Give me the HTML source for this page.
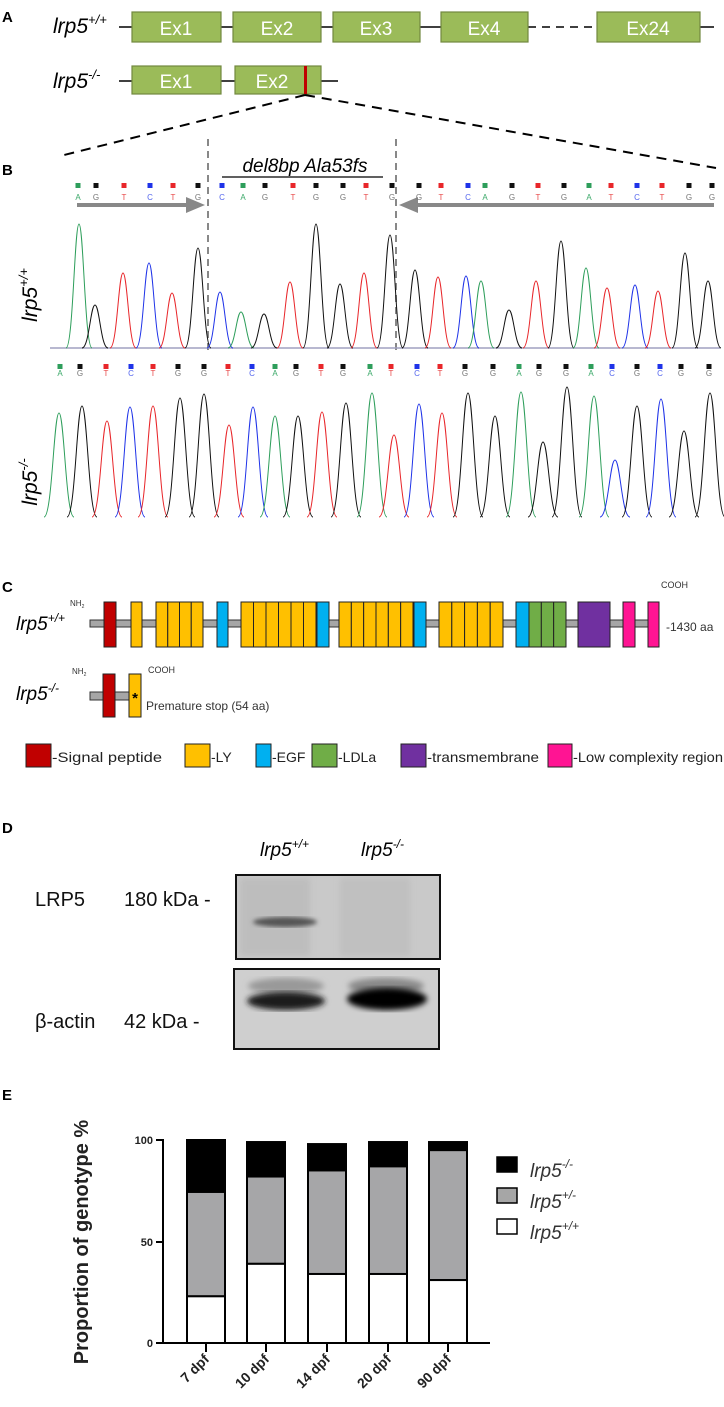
<!DOCTYPE html>
<html><head><meta charset="utf-8"><style>
html,body{margin:0;padding:0;background:#fff}
svg{display:block}
text{font-family:"Liberation Sans",sans-serif}
</style></head><body>
<svg id="s" width="724" height="1407" viewBox="0 0 724 1407" xmlns="http://www.w3.org/2000/svg">
<defs>
<filter id="blur3"><feGaussianBlur stdDeviation="3"/></filter>
<filter id="blur2"><feGaussianBlur stdDeviation="2"/></filter>
</defs>
<!-- Panel A -->
<text x="2" y="22" font-size="15" font-weight="bold">A</text>
<text x="2" y="175" font-size="15" font-weight="bold">B</text>
<g stroke="#000" stroke-width="1.5">
<line x1="119" y1="27" x2="528" y2="27"/>
<line x1="528" y1="27" x2="597" y2="27" stroke-dasharray="8,6"/>
<line x1="597" y1="27" x2="714" y2="27"/>
<line x1="119" y1="81" x2="338" y2="81"/>
</g>
<g fill="#9bbb59" stroke="#71893f" stroke-width="1.2">
<rect x="132" y="12" width="89" height="30"/>
<rect x="233" y="12" width="88" height="30"/>
<rect x="333" y="12" width="87" height="30"/>
<rect x="441" y="12" width="87" height="30"/>
<rect x="597" y="12" width="103" height="30"/>
<rect x="132" y="66" width="89" height="28"/>
<rect x="235" y="66" width="86" height="28"/>
</g>
<rect x="304" y="66" width="3" height="28" fill="#c00000"/>
<g fill="#fff" font-size="19" text-anchor="middle">
<text x="176" y="35">Ex1</text><text x="277" y="35">Ex2</text><text x="376" y="35">Ex3</text><text x="484" y="35">Ex4</text><text x="648" y="35">Ex24</text>
<text x="176" y="88">Ex1</text><text x="272" y="88">Ex2</text>
</g>
<text x="53" y="33" font-size="21" font-style="italic">lrp5<tspan font-size="13" dy="-9">+/+</tspan></text>
<text x="53" y="88" font-size="21" font-style="italic">lrp5<tspan font-size="13" dy="-9">-/-</tspan></text>
<g stroke="#000" stroke-width="2" stroke-dasharray="10,7">
<line x1="305" y1="95" x2="60" y2="156"/>
<line x1="305" y1="95" x2="716" y2="168"/>
</g>
<!-- Panel B -->
<text x="305" y="172" font-size="19" font-style="italic" text-anchor="middle">del8bp Ala53fs</text>
<line x1="222" y1="177" x2="383" y2="177" stroke="#000" stroke-width="1.2"/>
<g stroke="#888" stroke-width="2" stroke-dasharray="7,5">
<line x1="208" y1="139" x2="208" y2="352"/>
<line x1="396" y1="139" x2="396" y2="352"/>
</g>
<g fill="#888" stroke="#888">
<line x1="77" y1="205" x2="188" y2="205" stroke-width="4"/>
<polygon points="186,197 205,205 186,213" stroke="none"/>
<line x1="416" y1="205" x2="714" y2="205" stroke-width="4"/>
<polygon points="418,197 399,205 418,213" stroke="none"/>
</g>
<g id="seq"></g>
<g id="tr"></g>
<text transform="translate(37,295) rotate(-90)" font-size="21" font-style="italic" text-anchor="middle">lrp5<tspan font-size="13" dy="-9">+/+</tspan></text>
<text transform="translate(37,482) rotate(-90)" font-size="21" font-style="italic" text-anchor="middle">lrp5<tspan font-size="13" dy="-9">-/-</tspan></text>
<!-- Panel C -->
<text x="2" y="592" font-size="15" font-weight="bold">C</text>
<text x="661" y="588" font-size="9" fill="#333">COOH</text>
<text x="70" y="606" font-size="8" fill="#333">NH<tspan font-size="5" dy="2">2</tspan></text>
<text x="16" y="630" font-size="19" font-style="italic">lrp5<tspan font-size="12" dy="-8">+/+</tspan></text>
<rect x="90" y="620" width="560" height="7" fill="#a6a6a6" stroke="#333" stroke-width="1"/>
<g id="dom" stroke="#222" stroke-width="1"></g>
<text x="666" y="631" font-size="12" fill="#333">-1430 aa</text>
<text x="72" y="674" font-size="8" fill="#333">NH<tspan font-size="5" dy="2">2</tspan></text>
<text x="148" y="673" font-size="9" fill="#333">COOH</text>
<text x="16" y="700" font-size="19" font-style="italic">lrp5<tspan font-size="12" dy="-8">-/-</tspan></text>
<rect x="90" y="692" width="40" height="8" fill="#a6a6a6" stroke="#333" stroke-width="1"/>
<rect x="103" y="674" width="12" height="43" fill="#c00000" stroke="#222"/>
<rect x="129" y="674" width="12" height="43" fill="#ffc000" stroke="#222"/>
<text x="135" y="703" font-size="15" font-weight="bold" text-anchor="middle">*</text>
<text x="146" y="710" font-size="12" fill="#333">Premature stop (54 aa)</text>
<g stroke="#222" stroke-width="1">
<rect x="26" y="744" width="25" height="23" fill="#c00000"/>
<rect x="185" y="744" width="25" height="23" fill="#ffc000"/>
<rect x="256" y="744" width="15" height="23" fill="#00b0f0"/>
<rect x="312" y="744" width="25" height="23" fill="#70ad47"/>
<rect x="401" y="744" width="25" height="23" fill="#7030a0"/>
<rect x="548" y="744" width="24" height="23" fill="#ff1493"/>
</g>
<g font-size="14" fill="#222">
<text x="52" y="762" textLength="110" lengthAdjust="spacingAndGlyphs">-Signal peptide</text>
<text x="211" y="762">-LY</text>
<text x="272" y="762">-EGF</text>
<text x="338" y="762">-LDLa</text>
<text x="427" y="762" textLength="112" lengthAdjust="spacingAndGlyphs">-transmembrane</text>
<text x="573" y="762" textLength="150" lengthAdjust="spacingAndGlyphs">-Low complexity region</text>
</g>
<!-- Panel D -->
<text x="2" y="833" font-size="15" font-weight="bold">D</text>
<text x="260" y="856" font-size="19" font-style="italic">lrp5<tspan font-size="12" dy="-8">+/+</tspan></text>
<text x="361" y="856" font-size="19" font-style="italic">lrp5<tspan font-size="12" dy="-8">-/-</tspan></text>
<g font-size="20" fill="#111">
<text x="35" y="906">LRP5</text>
<text x="124" y="906">180 kDa -</text>
<text x="35" y="1028">β-actin</text>
<text x="124" y="1028">42 kDa -</text>
</g>
<rect x="236" y="875" width="204" height="84" fill="#c9c9c9"/>
<rect x="240" y="878" width="70" height="78" fill="#bdbdbd" filter="url(#blur3)"/>
<rect x="340" y="878" width="70" height="78" fill="#c0c0c0" filter="url(#blur3)"/>
<ellipse cx="285" cy="922" rx="32" ry="5" fill="#555" filter="url(#blur2)"/>
<rect x="236" y="875" width="204" height="84" fill="none" stroke="#111" stroke-width="2"/>
<rect x="234" y="969" width="205" height="80" fill="#cfcfcf"/>
<ellipse cx="286" cy="986" rx="38" ry="8" fill="#999" filter="url(#blur3)"/>
<ellipse cx="386" cy="986" rx="38" ry="8" fill="#888" filter="url(#blur3)"/>
<ellipse cx="286" cy="1001" rx="39" ry="9" fill="#1a1a1a" filter="url(#blur3)"/>
<ellipse cx="387" cy="999" rx="40" ry="11" fill="#000" filter="url(#blur3)"/>
<rect x="234" y="969" width="205" height="80" fill="none" stroke="#111" stroke-width="2"/>
<!-- Panel E -->
<text x="2" y="1100" font-size="15" font-weight="bold">E</text>
<text transform="translate(88,1242) rotate(-90)" font-size="20" font-weight="bold" text-anchor="middle" fill="#222">Proportion of genotype  %</text>
<g id="bars"></g>
<g stroke="#000" stroke-width="2">
<line x1="163" y1="1139" x2="163" y2="1344"/>
<line x1="156" y1="1140" x2="163" y2="1140"/>
<line x1="156" y1="1242" x2="163" y2="1242"/>
<line x1="156" y1="1343" x2="163" y2="1343"/>
<line x1="163" y1="1343" x2="490" y2="1343"/>
</g>
<g font-size="11" font-weight="bold" text-anchor="end" fill="#222">
<text x="153" y="1144">100</text><text x="153" y="1246">50</text><text x="153" y="1347">0</text>
</g>
<g stroke="#000" stroke-width="1.5">
<rect x="497" y="1157" width="20" height="15" fill="#000"/>
<rect x="497" y="1188" width="20" height="15" fill="#a6a6a6"/>
<rect x="497" y="1219" width="20" height="15" fill="#fff"/>
</g>
<g font-size="19" font-style="italic" fill="#333">
<text x="530" y="1177">lrp5<tspan font-size="12" dy="-9">-/-</tspan></text>
<text x="530" y="1208">lrp5<tspan font-size="12" dy="-9">+/-</tspan></text>
<text x="530" y="1239">lrp5<tspan font-size="12" dy="-9">+/+</tspan></text>
</g>
</svg>
<script>
var NS="http://www.w3.org/2000/svg";
function el(p,t,a,txt){var e=document.createElementNS(NS,t);for(var k in a)e.setAttribute(k,a[k]);if(txt)e.textContent=txt;document.getElementById(p).appendChild(e);return e;}
var col={A:"#2e9e5b",G:"#111",T:"#e8262a",C:"#1f33e8"};
var lcol={A:"#3aa868",G:"#777",T:"#e84a4a",C:"#5566ee"};
function seq(xs,letters,sy,ly){for(var i=0;i<xs.length;i++){var L=letters[i];el("seq","rect",{x:xs[i]-2.5,y:sy,width:5,height:5,fill:col[L]});el("seq","text",{x:xs[i],y:ly,"font-size":8,"text-anchor":"middle",fill:lcol[L],"font-family":"Liberation Serif,serif"},L);}}
seq([78,96,124,150,173,198,222,243,265,293,316,343,366,392,419,441,468,485,512,538,564,589,611,637,662,689,712],"AGTCTGCAGTGGTGGTCAGTGATCTGG",183,200);
var x2=[130,173,230,282,330,385,440,493,545,593,640,693,740,800,845,900,950,1005,1065,1122,1165,1222,1277,1322,1375,1425,1472,1532].map(function(v){return Math.round(v/2.16)});
seq(x2,"AGTCTGGTCAGTGATCTGGAGGACGCGG",364,376);
function peaks(list,base,w){list.forEach(function(p){var x=p[0],t=p[1],c=col[p[2]];
el("tr","path",{d:"M"+(x-w)+","+base+" C"+(x-w*0.45)+","+base+" "+(x-w*0.35)+","+t+" "+x+","+t+" C"+(x+w*0.35)+","+t+" "+(x+w*0.45)+","+base+" "+(x+w)+","+base,fill:"none",stroke:c,"stroke-width":1});});}
el("tr","line",{x1:50,y1:348,x2:720,y2:348,stroke:"#a0a0c0","stroke-width":1.5});
peaks([[79,224,"A"],[95,305,"G"],[123,273,"T"],[149,263,"C"],[172,293,"T"],[198,248,"G"],[220,292,"C"],[241,312,"A"],[264,314,"G"],[290,282,"T"],[316,224,"G"],[340,284,"G"],[364,273,"T"],[390,235,"G"],[415,270,"G"],[438,277,"T"],[466,276,"C"],[481,281,"A"],[509,310,"G"],[536,281,"T"],[561,241,"G"],[586,268,"A"],[607,288,"T"],[635,285,"C"],[658,291,"T"],[685,253,"G"],[708,281,"G"]],348,13);
var r2=[[59,413,"A"],[82,406,"G"],[107,421,"T"],[130,407,"C"],[153,406,"T"],[180,398,"G"],[204,394,"G"],[229,425,"T"],[253,407,"C"],[275,416,"A"],[298,416,"G"],[322,412,"T"],[346,403,"G"],[372,393,"A"],[394,435,"T"],[419,404,"C"],[442,413,"T"],[468,393,"G"],[495,416,"G"],[521,392,"A"],[543,442,"G"],[567,387,"G"],[594,396,"A"],[615,460,"C"],[637,406,"G"],[661,399,"C"],[684,431,"G"],[710,393,"G"]];
peaks(r2,517,15);
// domains
var D=[[104,12,"#c00000"],[131,11,"#ffc000"]];
function blk(x0,x1,n,c){var w=(x1-x0)/n;for(var i=0;i<n;i++)D.push([x0+i*w,w,c]);}
blk(156,203,4,"#ffc000");D.push([217,11,"#00b0f0"]);blk(241,316,6,"#ffc000");D.push([317,12,"#00b0f0"]);
blk(339,413,6,"#ffc000");D.push([414,12,"#00b0f0"]);blk(439,503,5,"#ffc000");D.push([516,13,"#00b0f0"]);
blk(529,566,3,"#70ad47");D.push([578,32,"#7030a0"]);D.push([623,12,"#ff1493"]);D.push([648,11,"#ff1493"]);
D.forEach(function(d){el("dom","rect",{x:d[0],y:602,width:d[1],height:45,fill:d[2]});});
// bars
var Y=function(p){return 1343-p*2.03};
var B=[[187,100,74.4,23],[247,99,82,39],[308,98,85,34],[369,99,87,34],[429,99,95,31]];
var labs=["7 dpf","10 dpf","14 dpf","20 dpf","90 dpf"];
B.forEach(function(b,i){var x=b[0],w=38;
el("bars","rect",{x:x,y:Y(b[1]),width:w,height:Y(b[2])-Y(b[1]),fill:"#000",stroke:"#000","stroke-width":2});
el("bars","rect",{x:x,y:Y(b[2]),width:w,height:Y(b[3])-Y(b[2]),fill:"#a6a6a8",stroke:"#000","stroke-width":2});
el("bars","rect",{x:x,y:Y(b[3]),width:w,height:1343-Y(b[3]),fill:"#fff",stroke:"#000","stroke-width":2});
var cx=x+w/2;el("bars","line",{x1:cx,y1:1343,x2:cx,y2:1352,stroke:"#000","stroke-width":2});
el("bars","text",{transform:"translate("+(cx+4)+",1360) rotate(-45)","text-anchor":"end","font-size":14,"font-weight":"bold","font-family":"Liberation Serif,serif",fill:"#222"},labs[i]);});
</script>
</body></html>
